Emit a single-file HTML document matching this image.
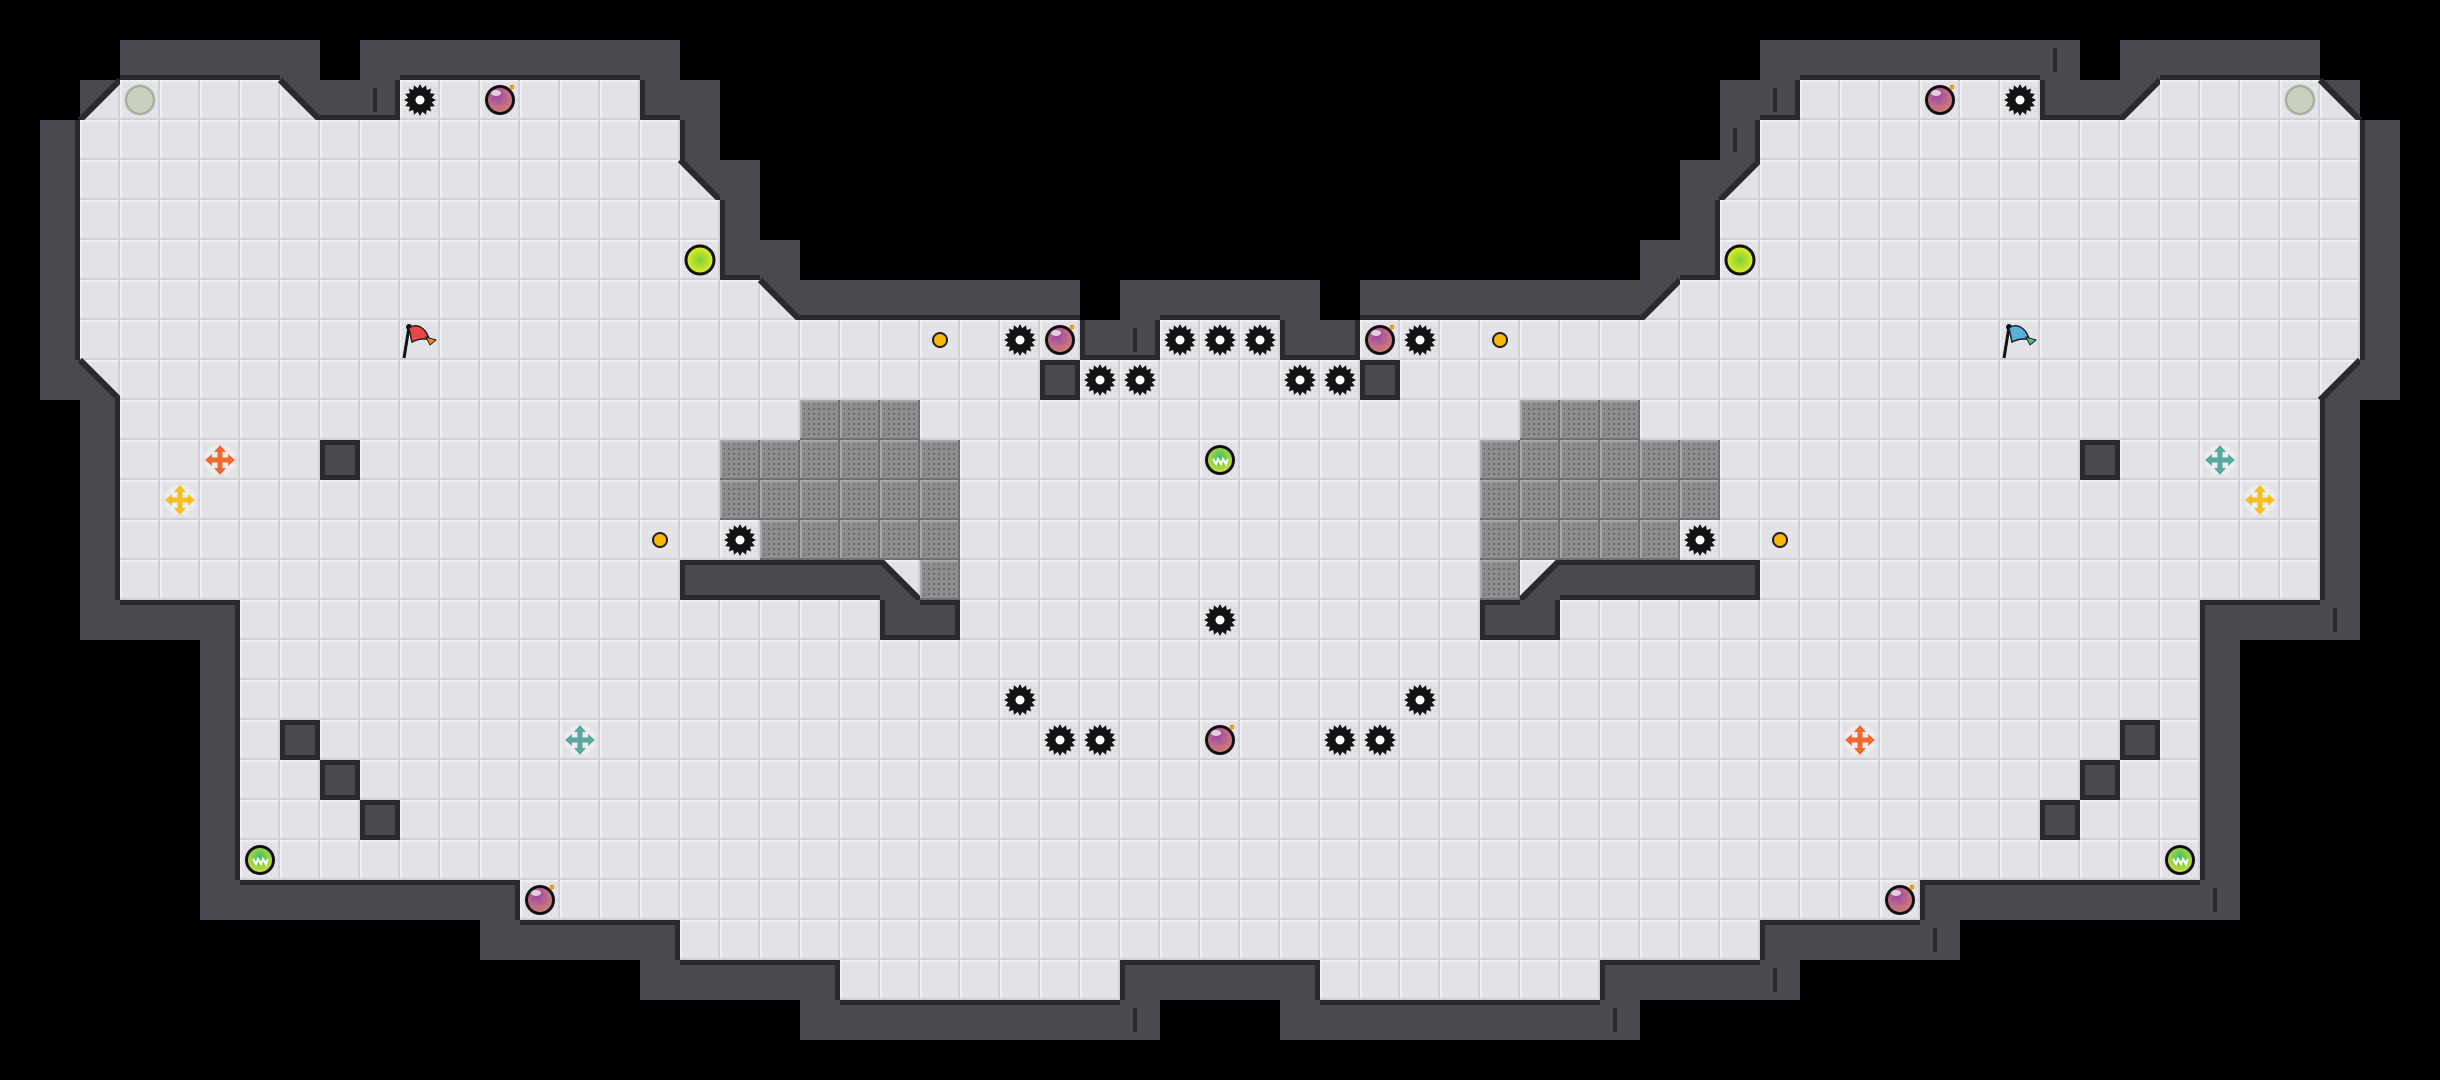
<!DOCTYPE html>
<html><head><meta charset="utf-8"><style>
html,body{margin:0;padding:0;background:#000;width:2440px;height:1080px;overflow:hidden}
svg{display:block}
</style></head><body>
<svg id="s" xmlns="http://www.w3.org/2000/svg" width="2440" height="1080" viewBox="0 0 2440 1080">
<defs>
<pattern id="fl" width="40" height="40" patternUnits="userSpaceOnUse">
<rect width="40" height="40" fill="#e3e3e7"/>
<rect x="0" y="0" width="40" height="2" fill="#efeff2"/>
<rect x="0" y="0" width="2" height="40" fill="#efeff2"/>
<rect x="0" y="38" width="40" height="2" fill="#d0d0d5"/>
<rect x="38" y="0" width="2" height="40" fill="#d0d0d5"/>
</pattern>
<pattern id="gr" width="40" height="40" patternUnits="userSpaceOnUse">
<rect width="40" height="40" fill="#8e8e90"/>
<rect x="0" y="0" width="40" height="2" fill="#a8a8aa"/>
<rect x="0" y="0" width="2" height="40" fill="#a8a8aa"/>
<rect x="0" y="38" width="40" height="2" fill="#6e6e70"/>
<rect x="38" y="0" width="2" height="40" fill="#6e6e70"/>
<pattern id="dt" width="5" height="5" patternUnits="userSpaceOnUse" x="3" y="3"><rect width="2" height="2" fill="#6a6a6c"/></pattern>
<rect x="4" y="4" width="32" height="32" fill="url(#dt)"/>
</pattern>
<radialGradient id="pg" cx="0.4" cy="0.35" r="0.7"><stop offset="0" stop-color="#9a4aa8"/><stop offset="1" stop-color="#d9846a"/></radialGradient>
<radialGradient id="yg" cx="0.5" cy="0.5" r="0.5"><stop offset="0" stop-color="#7ccf45"/><stop offset="1" stop-color="#e8ee1c"/></radialGradient>
<radialGradient id="gg" cx="0.5" cy="0.4" r="0.6"><stop offset="0" stop-color="#3cbf6a"/><stop offset="1" stop-color="#e0e030"/></radialGradient>
</defs>
<g id="g"></g>
</svg>
<script>
var L=[
"                               ",
"   WWWWW WWWWWWWW              ",
"  a....bWW......WW             ",
" W...............W             ",
" W...............bW            ",
" W................W            ",
" W................WW           ",
" W.................bWWWWWWW WWW",
" W.......................WW..",
" Wc.......................W....",
"  W............................",
"  W.....W......................",
"  W............................",
"  W............................",
"  W..............WWWWWc........",
"  WWWW................WW.......",
"     W.........................",
"     W.........................",
"     W.W.......................",
"     W..W......................",
"     W...W.....................",
"     W.........................",
"     WWWWWWWW..................",
"            WWWWW..............",
"                WWWWW.......WWW",
"                    WWWWWWWWW  ",
"                               "];
L[8]=" W"+".".repeat(25)+"WW..";
var M={a:'b',b:'a',c:'d',d:'c'};
var G=[];
for(var r=0;r<27;r++){var s=L[r];while(s.length<31)s+=" ";s=s.slice(0,31);
var rt=s.slice(0,30).split('').reverse().map(function(c){return M[c]||c}).join('');G.push(s+rt);}
function at(c,r){if(r<0||r>=27||c<0||c>=61)return ' ';return G[r][c];}
var o=[];var WC="#4a4a50",BC="#2a2a2e";
for(var r=0;r<27;r++)for(var c=0;c<61;c++){var t=G[r][c],x=c*40,y=r*40;
if(t==='.'){o.push('<rect x="'+x+'" y="'+y+'" width="40" height="40" fill="url(#fl)"/>');}
else if(t==='W'){o.push('<rect x="'+x+'" y="'+y+'" width="40" height="40" fill="'+WC+'"/>');}
else if('abcd'.indexOf(t)>=0){o.push('<rect x="'+x+'" y="'+y+'" width="40" height="40" fill="url(#fl)"/>');
var p,l;
if(t==='a'){p=[x,y,x+40,y,x,y+40];l=[x+40,y,x,y+40];}
if(t==='b'){p=[x,y,x+40,y,x+40,y+40];l=[x,y,x+40,y+40];}
if(t==='c'){p=[x,y,x,y+40,x+40,y+40];l=[x,y,x+40,y+40];}
if(t==='d'){p=[x+40,y,x+40,y+40,x,y+40];l=[x+40,y,x,y+40];}
o.push('<polygon points="'+p.join(',')+'" fill="'+WC+'"/>');
o.push('<line x1="'+l[0]+'" y1="'+l[1]+'" x2="'+l[2]+'" y2="'+l[3]+'" stroke="'+BC+'" stroke-width="6"/>');}
}
// wall borders
for(var r=0;r<27;r++)for(var c=0;c<61;c++){if(G[r][c]!=='W')continue;var x=c*40,y=r*40,b=5;
if(at(c,r-1)==='.')o.push('<rect x="'+x+'" y="'+y+'" width="40" height="'+b+'" fill="'+BC+'"/>');
if(at(c,r+1)==='.')o.push('<rect x="'+x+'" y="'+(y+40-b)+'" width="40" height="'+b+'" fill="'+BC+'"/>');
if(at(c-1,r)==='.')o.push('<rect x="'+x+'" y="'+y+'" width="'+b+'" height="40" fill="'+BC+'"/>');
if(at(c+1,r)==='.')o.push('<rect x="'+(x+40-b)+'" y="'+y+'" width="'+b+'" height="40" fill="'+BC+'"/>');
}
// grates
var gl=[[10,20],[10,21],[10,22],[14,23]];
for(var c=18;c<=23;c++){gl.push([11,c]);gl.push([12,c]);}
for(var c=19;c<=23;c++)gl.push([13,c]);
gl.forEach(function(g){[g[1],60-g[1]].forEach(function(c){o.push('<rect x="'+c*40+'" y="'+g[0]*40+'" width="40" height="40" fill="url(#gr)"/>');});});
// markers
[[9,2],[28,8],[28,25],[40,25],[44,24],[48,23],[55,22],[58,15],[43,3],[44,2],[51,1]].forEach(function(m){
o.push('<rect x="'+(m[0]*40+13)+'" y="'+(m[1]*40+8)+'" width="4" height="24" fill="'+BC+'"/>');});
function cx(c){return c*40+20}
function spike(c,r){var X=cx(c),Y=cx(r),pts=[];for(var i=0;i<32;i++){var a=i*Math.PI/16,R=i%2?12:16;pts.push((X+R*Math.cos(a)).toFixed(1)+','+(Y+R*Math.sin(a)).toFixed(1));}
o.push('<polygon points="'+pts.join(' ')+'" fill="#141414"/><circle cx="'+X+'" cy="'+Y+'" r="4.5" fill="#fff"/>');}
function bomb(c,r){var X=cx(c),Y=cx(r);o.push('<circle cx="'+X+'" cy="'+Y+'" r="13.5" fill="url(#pg)" stroke="#111" stroke-width="3"/><ellipse cx="'+(X-4)+'" cy="'+(Y-7)+'" rx="5" ry="3" fill="#fff" opacity="0.7"/><circle cx="'+(X+12)+'" cy="'+(Y-13)+'" r="2.5" fill="#f39a1e"/>');}
function yball(c,r){var X=cx(c),Y=cx(r);o.push('<circle cx="'+X+'" cy="'+Y+'" r="14" fill="url(#yg)" stroke="#111" stroke-width="3"/>');}
function gball(c,r){var X=cx(c),Y=cx(r);o.push('<circle cx="'+X+'" cy="'+Y+'" r="14" fill="#c9d0bd" stroke="#a9b0a0" stroke-width="2.5"/>');}
function jball(c,r){var X=cx(c),Y=cx(r);o.push('<circle cx="'+X+'" cy="'+Y+'" r="13.5" fill="url(#gg)" stroke="#111" stroke-width="3"/><path d="M'+(X-7)+','+(Y-1)+' l3,5 l2,-5 l3,5 l2,-5 l3,5 l2,-5" fill="none" stroke="#fff" stroke-width="2"/>');}
function dot(c,r){var X=cx(c),Y=cx(r);o.push('<circle cx="'+X+'" cy="'+Y+'" r="7" fill="#f6b800" stroke="#222" stroke-width="2"/>');}
function plus(c,r,col){var X=cx(c),Y=cx(r);o.push('<g transform="translate('+X+','+Y+')"><circle r="15" fill="#fff" opacity="0.35"/><rect x="-11" y="-2.5" width="22" height="5" fill="'+col+'"/><rect x="-2.5" y="-11" width="5" height="22" fill="'+col+'"/><polygon points="-15,0 -8,-6 -8,6" fill="'+col+'"/><polygon points="15,0 8,-6 8,6" fill="'+col+'"/><polygon points="0,-15 -6,-8 6,-8" fill="'+col+'"/><polygon points="0,15 -6,8 6,8" fill="'+col+'"/></g>');}
function flag(c,r,col,tip){var X=c*40,Y=r*40;o.push('<g transform="translate('+X+','+Y+')"><line x1="4" y1="38" x2="9" y2="7" stroke="#111" stroke-width="3"/><circle cx="9" cy="7" r="3" fill="#111"/><path d="M9,8 Q18,2 26,12 L30,20 Q22,17 12,22 Z" fill="'+col+'" stroke="#222" stroke-width="1.5"/><path d="M26,17 L36,20 L30,25 Z" fill="'+tip+'" stroke="#222" stroke-width="1"/></g>');}
gball(3,2);gball(57,2);
spike(10,2);spike(50,2);bomb(12,2);bomb(48,2);
yball(17,6);yball(43,6);
flag(10,8,"#e8474a","#f08a2a");flag(50,8,"#5ab0d8","#50c08a");
dot(23,8);dot(37,8);dot(16,13);dot(44,13);
spike(25,8);spike(35,8);bomb(26,8);bomb(34,8);
spike(29,8);spike(30,8);spike(31,8);spike(27,9);spike(28,9);spike(32,9);spike(33,9);
plus(5,11,"#f06a30");plus(4,12,"#f5c020");plus(55,11,"#5aa8a0");plus(56,12,"#f5c020");
jball(30,11);spike(18,13);spike(42,13);spike(30,15);
spike(25,17);spike(35,17);spike(26,18);spike(27,18);spike(33,18);spike(34,18);bomb(30,18);
plus(14,18,"#5aa8a0");plus(46,18,"#f06a30");
jball(6,21);jball(54,21);bomb(13,22);bomb(47,22);
document.getElementById('g').innerHTML=o.join('');
</script>
</body></html>
